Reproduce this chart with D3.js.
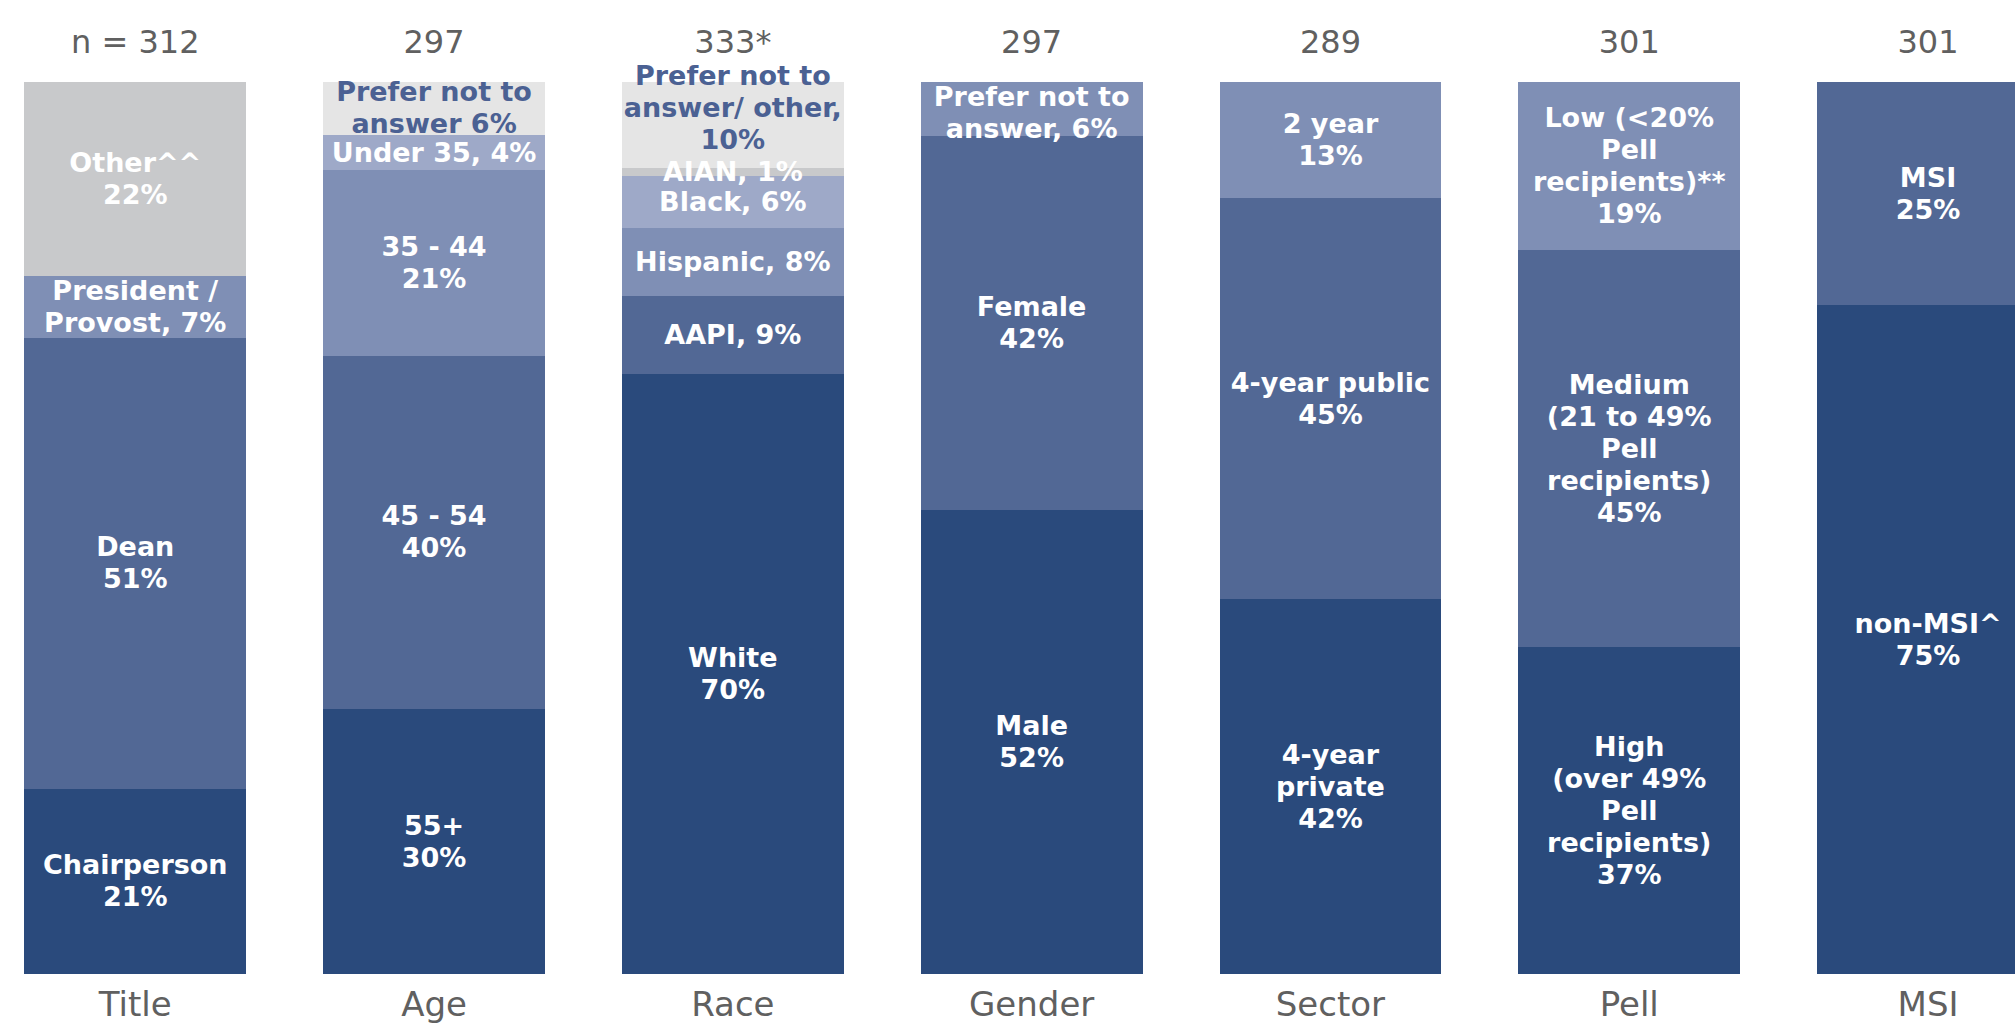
<!DOCTYPE html>
<html>
<head>
<meta charset="utf-8">
<script src="https://cdn.jsdelivr.net/npm/d3@7"></script>
<style>
  html, body { margin: 0; padding: 0; background: #ffffff; }
  svg { display: block; }
</style>
</head>
<body>
<svg id="chart" width="2015" height="1024"></svg>
<script>
// Respondent profile: one 100% stacked column per characteristic.
const categories = ["Title", "Age", "Race", "Gender", "Sector", "Pell", "MSI"];
const sampleSizes = ["n = 312", "297", "333*", "297", "289", "301", "301"];

// Segments are listed bottom to top; "|" breaks a line, {v} is the share.
const segmentLabels = [
  ["Chairperson|{v}%", "Dean|{v}%", "President /|Provost, {v}%", "Other^^|{v}%"],
  ["55+|{v}%", "45 - 54|{v}%", "35 - 44|{v}%", "Under 35, {v}%", "Prefer not to|answer {v}%"],
  ["White|{v}%", "AAPI, {v}%", "Hispanic, {v}%", "Black, {v}%", "AIAN, {v}%", "Prefer not to|answer/ other,|{v}%"],
  ["Male|{v}%", "Female|{v}%", "Prefer not to|answer, {v}%"],
  ["4-year|private|{v}%", "4-year public|{v}%", "2 year|{v}%"],
  ["High|(over 49%|Pell|recipients)|{v}%", "Medium|(21 to 49%|Pell|recipients)|{v}%", "Low (<20%|Pell|recipients)**|{v}%"],
  ["non-MSI^|{v}%", "MSI|{v}%"]
];
const segmentValues = [
  [21, 51, 7, 22],
  [30, 40, 21, 4, 6],
  [70, 9, 8, 6, 1, 10],
  [52, 42, 6],
  [42, 45, 13],
  [37, 45, 19],
  [75, 25]
];

// ---- styling ----
const navyTones = ["#2a4a7c", "#526895", "#7f8fb5", "#9ea9c8"];
const grey = "#c8c9cb";
const pale = "#e5e5e5";
const neutralFill = { "Title:3": grey, "Age:4": pale, "Race:4": grey, "Race:5": pale };
const labelNudge = { "Race:5": -17, "Gender:2": 4 };
const darkText = "#4b6193";

const plotTop = 82, plotBottom = 974;
const svg = d3.select("#chart");

const x = d3.scaleBand()
  .domain(categories)
  .range([24.4, 24.4 + 2014.5])
  .paddingInner(0.258)
  .paddingOuter(0);

const y = d3.scaleLinear().domain([0, 1]).range([plotBottom, plotTop]);

const fontFace = "'DejaVu Sans', sans-serif";
const lineH = 32;

categories.forEach((cat, i) => {
  const vals = segmentValues[i];
  const keys = vals.map((_, j) => "s" + j);
  const row = {};
  keys.forEach((k, j) => row[k] = vals[j]);
  const stacked = d3.stack().keys(keys).offset(d3.stackOffsetExpand)([row]);

  const g = svg.append("g").attr("class", "column");
  const x0 = x(cat), bw = x.bandwidth(), cx = x0 + bw / 2;
  const fillOf = j => neutralFill[cat + ":" + j] || navyTones[Math.min(j, navyTones.length - 1)];

  stacked.forEach((layer, j) => {
    const d = layer[0];
    g.append("rect")
      .attr("x", x0)
      .attr("width", bw)
      .attr("y", y(d[1]))
      .attr("height", y(d[0]) - y(d[1]))
      .attr("shape-rendering", "crispEdges")
      .attr("fill", fillOf(j));
  });

  stacked.forEach((layer, j) => {
    const d = layer[0];
    const id = cat + ":" + j;
    const lines = segmentLabels[i][j].replace("{v}", vals[j]).split("|");
    const cy = (y(d[0]) + y(d[1])) / 2 + (labelNudge[id] || 0);
    const t = g.append("text")
      .attr("text-anchor", "middle")
      .attr("font-family", fontFace)
      .attr("font-weight", "bold")
      .attr("font-size", 27)
      .attr("fill", fillOf(j) === pale ? darkText : "#ffffff");
    lines.forEach((ln, k) => {
      t.append("tspan")
        .attr("x", cx)
        .attr("y", cy - (lines.length - 1) * lineH / 2 + k * lineH + 9)
        .text(ln);
    });
  });

  // sample size above, characteristic name below
  g.append("text")
    .attr("x", cx).attr("y", 53)
    .attr("text-anchor", "middle")
    .attr("font-family", fontFace)
    .attr("font-size", 32)
    .attr("fill", "#606060")
    .text(sampleSizes[i]);

  g.append("text")
    .attr("x", cx).attr("y", 1016)
    .attr("text-anchor", "middle")
    .attr("font-family", fontFace)
    .attr("font-size", 34)
    .attr("fill", "#606060")
    .text(cat);
});
</script>
</body>
</html>
